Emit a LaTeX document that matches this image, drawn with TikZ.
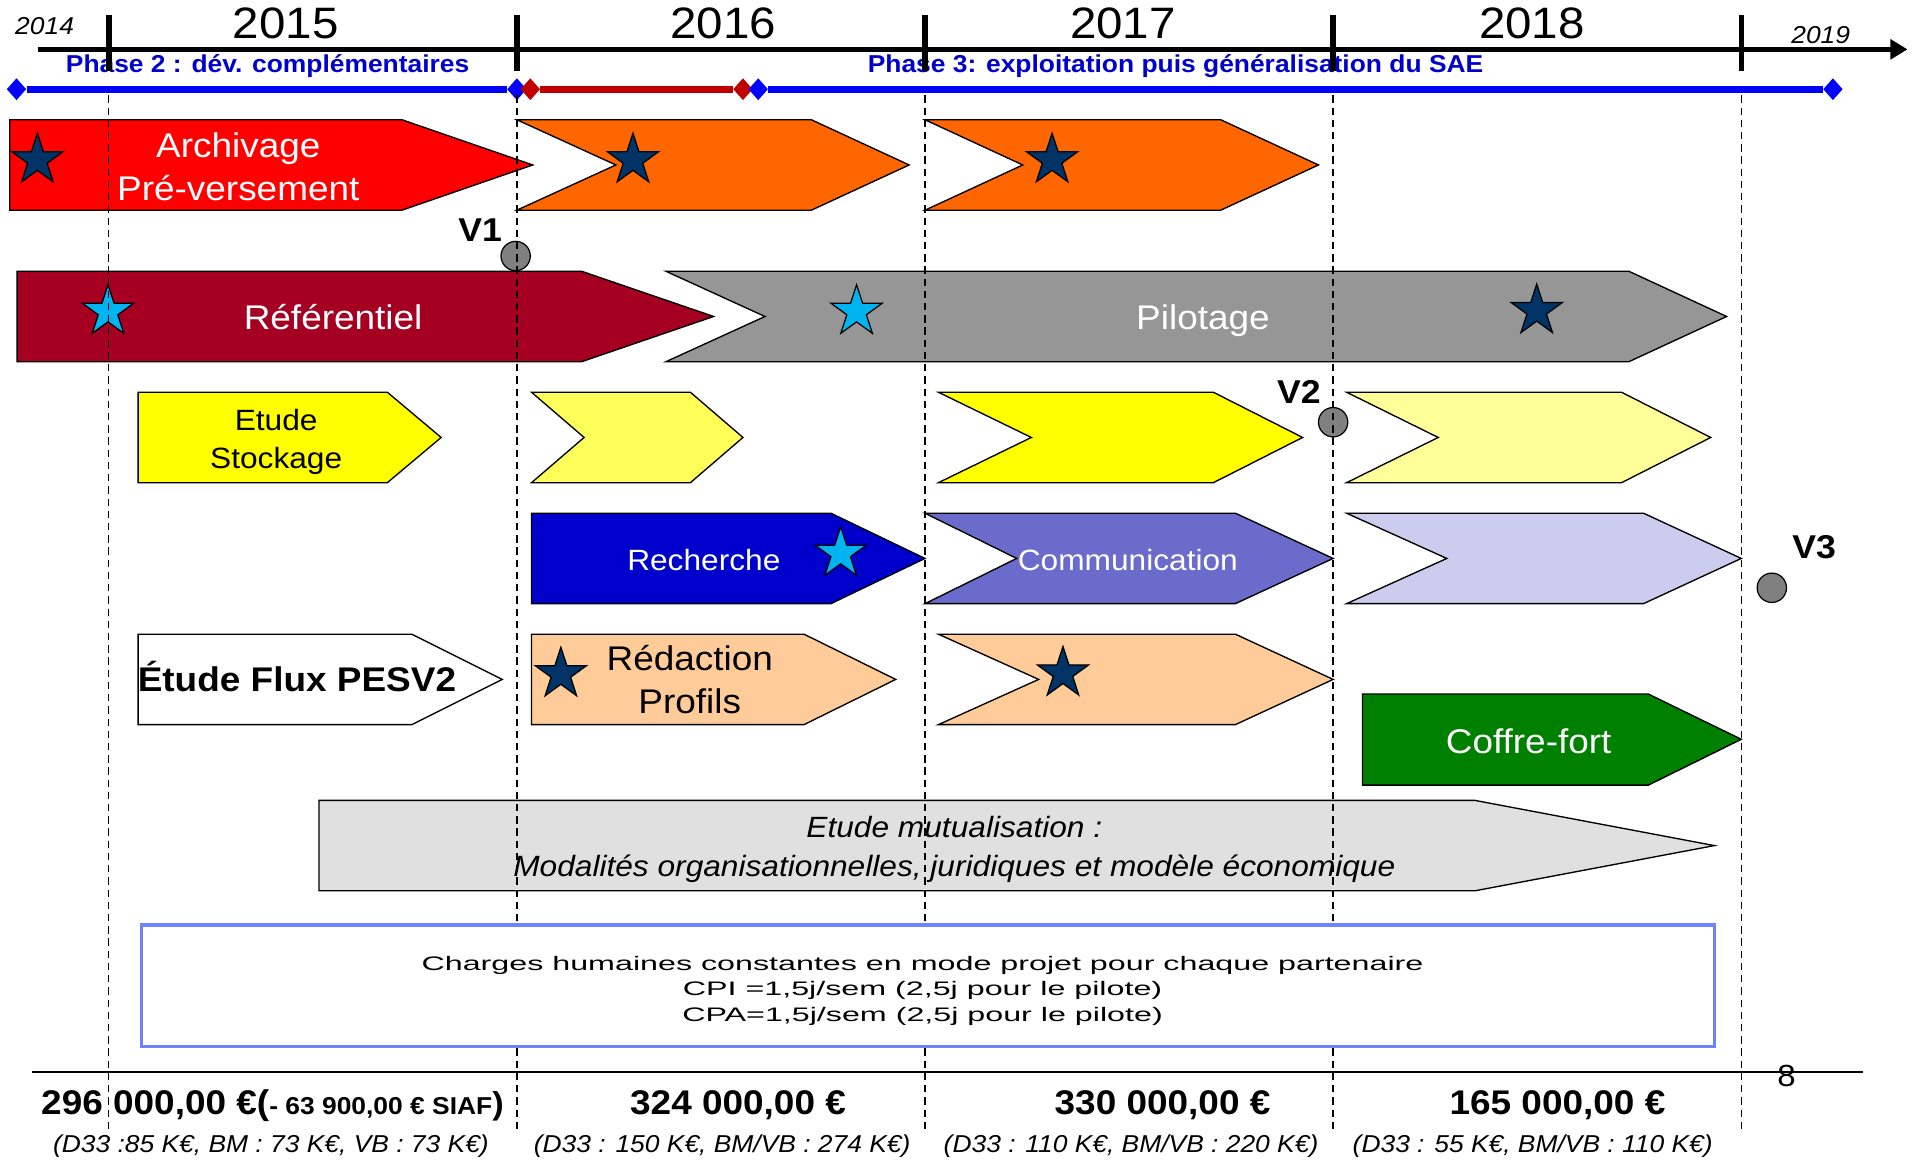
\documentclass[tikz,border=0pt]{standalone}
\usepackage{fontspec}
\setmainfont{Liberation Sans}[FakeStretch=1.08]
\usepackage{graphicx}
\usetikzlibrary{shapes.geometric,arrows.meta}
\definecolor{navyfill}{RGB}{0,51,102}
\definecolor{cyanfill}{RGB}{0,180,240}
\definecolor{redarch}{RGB}{255,0,0}
\definecolor{orangefill}{RGB}{255,102,0}
\definecolor{darkref}{RGB}{165,0,33}
\definecolor{grayfill}{RGB}{150,150,150}
\definecolor{yellowfill}{RGB}{255,255,0}
\definecolor{yellowtex}{RGB}{255,255,90}
\definecolor{yellowpale}{RGB}{255,255,153}
\definecolor{bluefill}{RGB}{0,0,204}
\definecolor{commfill}{RGB}{107,107,204}
\definecolor{lavfill}{RGB}{204,204,238}
\definecolor{peachfill}{RGB}{255,204,153}
\definecolor{greenfill}{RGB}{0,128,0}
\definecolor{mutufill}{RGB}{224,224,224}
\definecolor{phasetext}{RGB}{0,0,204}
\definecolor{phaseblue}{RGB}{0,0,255}
\definecolor{phasered}{RGB}{192,0,0}
\definecolor{boxline}{RGB}{110,130,250}
\begin{document}
\begin{tikzpicture}[x=1pt,y=-1pt,
  block/.style={draw=black,line width=1.1pt,line join=miter},
  navystar/.style={star,star points=5,star point ratio=2.618,minimum size=44pt,inner sep=0pt,
    fill=navyfill,draw=black,line width=1pt},
  cyanstar/.style={navystar,fill=cyanfill},
  vdot/.style={circle,minimum size=24pt,inner sep=0pt,fill=black!50,draw=black,line width=1pt},
  vlabel/.style={anchor=base,font=\fontsize{27}{30}\selectfont\bfseries},
  bigtext/.style={anchor=base,align=center,font=\fontsize{28}{35}\selectfont},
  midtext/.style={anchor=base,align=center,font=\fontsize{24}{31.3}\selectfont},
  yeartext/.style={anchor=base,font=\fontsize{36}{40}\selectfont},
  smallyear/.style={anchor=base,font=\fontsize{20}{24}\selectfont\itshape},
  phaselabel/.style={anchor=base,text=phasetext,font=\fontsize{20}{24}\selectfont\bfseries},
  phasemark/.style={diamond,minimum width=16pt,minimum height=18pt,inner sep=0pt,fill=phaseblue},
  totaltext/.style={anchor=base,font=\fontsize{28}{32}\selectfont\bfseries},
  detailtext/.style={anchor=base,font=\fontsize{20}{24}\selectfont\itshape},
  yearline/.style={dash pattern=on 6pt off 4pt,line width=1.1pt}]
\useasboundingbox (0,0) rectangle (1568,951);

% time axis
\draw[line width=4.5pt,-{Triangle[length=14pt,width=16pt]}] (31,40.4) -- (1561,40.4);
\node[smallyear] (y2014) at (36.5,28.6) {2014};
\node[yeartext] (y2015) at (233.8,31.5) {2015};
\node[yeartext] (y2016) at (592,31.5) {2016};
\node[yeartext] (y2017) at (919,31.5) {2017};
\node[yeartext] (y2018) at (1253.7,31.5) {2018};
\node[smallyear] (y2019) at (1490,35.5) {2019};

% phases
\node[phaselabel] (phase2) at (219,59.5) {Phase 2 : dév. complémentaires};
\node[phaselabel] (phase3) at (962,59.5) {Phase 3: exploitation puis généralisation du SAE};
\foreach \xx in {89,423,757,1091,1425}
  \draw[line width=4.5pt] (\xx,12) -- (\xx,58);
\node[phasemark] (p2start) at (13.5,73) {};
\node[phasemark] (p2end) at (423,73) {};
\node[phasemark,fill=phasered] (redstart) at (434,73) {};
\node[phasemark,fill=phasered] (redend) at (608,73) {};
\node[phasemark] (p3start) at (620.5,73) {};
\node[phasemark] (p3end) at (1500,73) {};
\draw[phaseblue,line width=5.5pt] (p2start) -- (p2end);
\draw[phasered,line width=5.5pt] (redstart) -- (redend);
\draw[phaseblue,line width=5.5pt] (p3start) -- (p3end);

% row 1
\draw[block,fill=redarch] (8,98) -- (329,98) -- (436,135) -- (329,172) -- (8,172) -- cycle;
\draw[block,fill=orangefill] (423,98) -- (664,98) -- (744,135) -- (664,172) -- (423,172) -- (504,135) -- cycle;
\draw[block,fill=orangefill] (757,98) -- (999,98) -- (1079,135) -- (999,172) -- (757,172) -- (837,135) -- cycle;
% row 2
\draw[block,fill=darkref] (14,222) -- (476,222) -- (584,259) -- (476,296) -- (14,296) -- cycle;
\draw[block,fill=grayfill] (545,222) -- (1333,222) -- (1413,259) -- (1333,296) -- (545,296) -- (626,259) -- cycle;
% row 3
\draw[block,fill=yellowfill] (113,321) -- (317,321) -- (361,358) -- (317,395) -- (113,395) -- cycle;
\draw[block,fill=yellowtex] (435,321) -- (565,321) -- (608,358) -- (565,395) -- (435,395) -- (478,358) -- cycle;
\draw[block,fill=yellowfill] (768,321) -- (993,321) -- (1066,358) -- (993,395) -- (768,395) -- (844,358) -- cycle;
\draw[block,fill=yellowpale] (1102,321) -- (1327,321) -- (1400,358) -- (1327,395) -- (1102,395) -- (1177,358) -- cycle;
% row 4
\draw[block,fill=bluefill] (435,420) -- (680,420) -- (757,457) -- (680,494) -- (435,494) -- cycle;
\draw[block,fill=commfill] (757,420) -- (1011,420) -- (1091,457) -- (1011,494) -- (757,494) -- (832,457) -- cycle;
\draw[block,fill=lavfill] (1102,420) -- (1345,420) -- (1425,457) -- (1345,494) -- (1102,494) -- (1184,457) -- cycle;
% row 5
\draw[block,fill=white] (113,519) -- (337,519) -- (411,556) -- (337,593) -- (113,593) -- cycle;
\draw[block,fill=peachfill] (435,519) -- (658,519) -- (733,556) -- (658,593) -- (435,593) -- cycle;
\draw[block,fill=peachfill] (768,519) -- (1011,519) -- (1091,556) -- (1011,593) -- (768,593) -- (850,556) -- cycle;
\draw[block,fill=greenfill] (1115,568) -- (1349,568) -- (1425,605) -- (1349,642.5) -- (1115,642.5) -- cycle;
% row 6
\draw[block,fill=mutufill] (261,655) -- (1207,655) -- (1403,692) -- (1207,729) -- (261,729) -- cycle;

% stars
\node[navystar] (star1) at (30.6,131) {};
\node[navystar] (star2) at (518,131) {};
\node[navystar] (star3) at (861,131) {};
\node[cyanstar] (star4) at (88.4,255) {};
\node[cyanstar] (star5) at (701,255) {};
\node[navystar] (star6) at (1257.6,254.4) {};
\node[cyanstar] (star7) at (688,453) {};
\node[navystar] (star8) at (459,551.6) {};
\node[navystar] (star9) at (869.9,551) {};

% milestones
\node[vdot] (v1dot) at (422,209.5) {};
\node[vdot] (v2dot) at (1091,345.5) {};
\node[vdot] (v3dot) at (1450,481) {};
\node[vlabel] (v1) at (393,197.8) {V1};
\node[vlabel] (v2) at (1063,330) {V2};
\node[vlabel] (v3) at (1484.6,457) {V3};

% year separators
\foreach \xx in {89,423,757,1091,1425}
  \draw[yearline] (\xx,78) -- (\xx,925);

% charges box
\draw[draw=boxline,line width=2.5pt,fill=white] (116,757) rectangle (1403,856.5);
\node[anchor=base,align=center,font=\fontsize{16}{21}\selectfont] (charges) at (755,836)
  {\scalebox{1.527}[1]{Charges humaines constantes en mode projet pour chaque partenaire}\\
   \scalebox{1.527}[1]{CPI =1,5j/sem (2,5j pour le pilote)}\\
   \scalebox{1.527}[1]{CPA=1,5j/sem (2,5j pour le pilote)}};

% labels
\node[bigtext,text=white] (archivage) at (195,163.7) {Archivage\\Pré-versement};
\node[bigtext,text=white] (referentiel) at (272.6,269.5) {Référentiel};
\node[bigtext,text=white] (pilotage) at (984.5,269.5) {Pilotage};
\node[midtext] (stockage) at (226,383.3) {Etude\\Stockage};
\node[midtext,text=white] (recherche) at (576,466.5) {Recherche};
\node[midtext,text=white] (communication) at (923,466.5) {Communication};
\node[bigtext,font=\fontsize{28}{35}\selectfont\bfseries] (flux) at (243,566) {Étude Flux PESV2};
\node[bigtext,font=\fontsize{28}{36}\selectfont] (redaction) at (564.5,584.3) {Rédaction\\Profils};
\node[bigtext,text=white] (coffre) at (1251,616.5) {Coffre-fort};
\node[anchor=base,align=center,font=\fontsize{24}{32}\selectfont\itshape] (mutualisation) at (781,717.4)
  {Etude mutualisation :\\Modalités organisationnelles, juridiques et modèle économique};

% budget
\draw[line width=1.5pt] (26,877.6) -- (1525,877.6);
\node[anchor=base,font=\fontsize{25}{28}\selectfont] (pagenum) at (1462,889.3) {8};
\node[totaltext] (total2015) at (223,912)
  {296 000,00 €(\fontsize{20}{24}\selectfont- 63 900,00 € SIAF\fontsize{26}{28}\selectfont)};
\node[totaltext] (total2016) at (604,912) {324 000,00 €};
\node[totaltext] (total2017) at (951.4,912) {330 000,00 €};
\node[totaltext] (total2018) at (1274.6,912) {165 000,00 €};
\node[detailtext] (detail2015) at (221.7,943) {(D33 :85 K€, BM : 73 K€, VB : 73 K€)};
\node[detailtext] (detail2016) at (591,943) {(D33 : 150 K€, BM/VB : 274 K€)};
\node[detailtext] (detail2017) at (925.6,943) {(D33 : 110 K€, BM/VB : 220 K€)};
\node[detailtext] (detail2018) at (1254.3,943) {(D33 : 55 K€, BM/VB : 110 K€)};
\end{tikzpicture}
\end{document}
